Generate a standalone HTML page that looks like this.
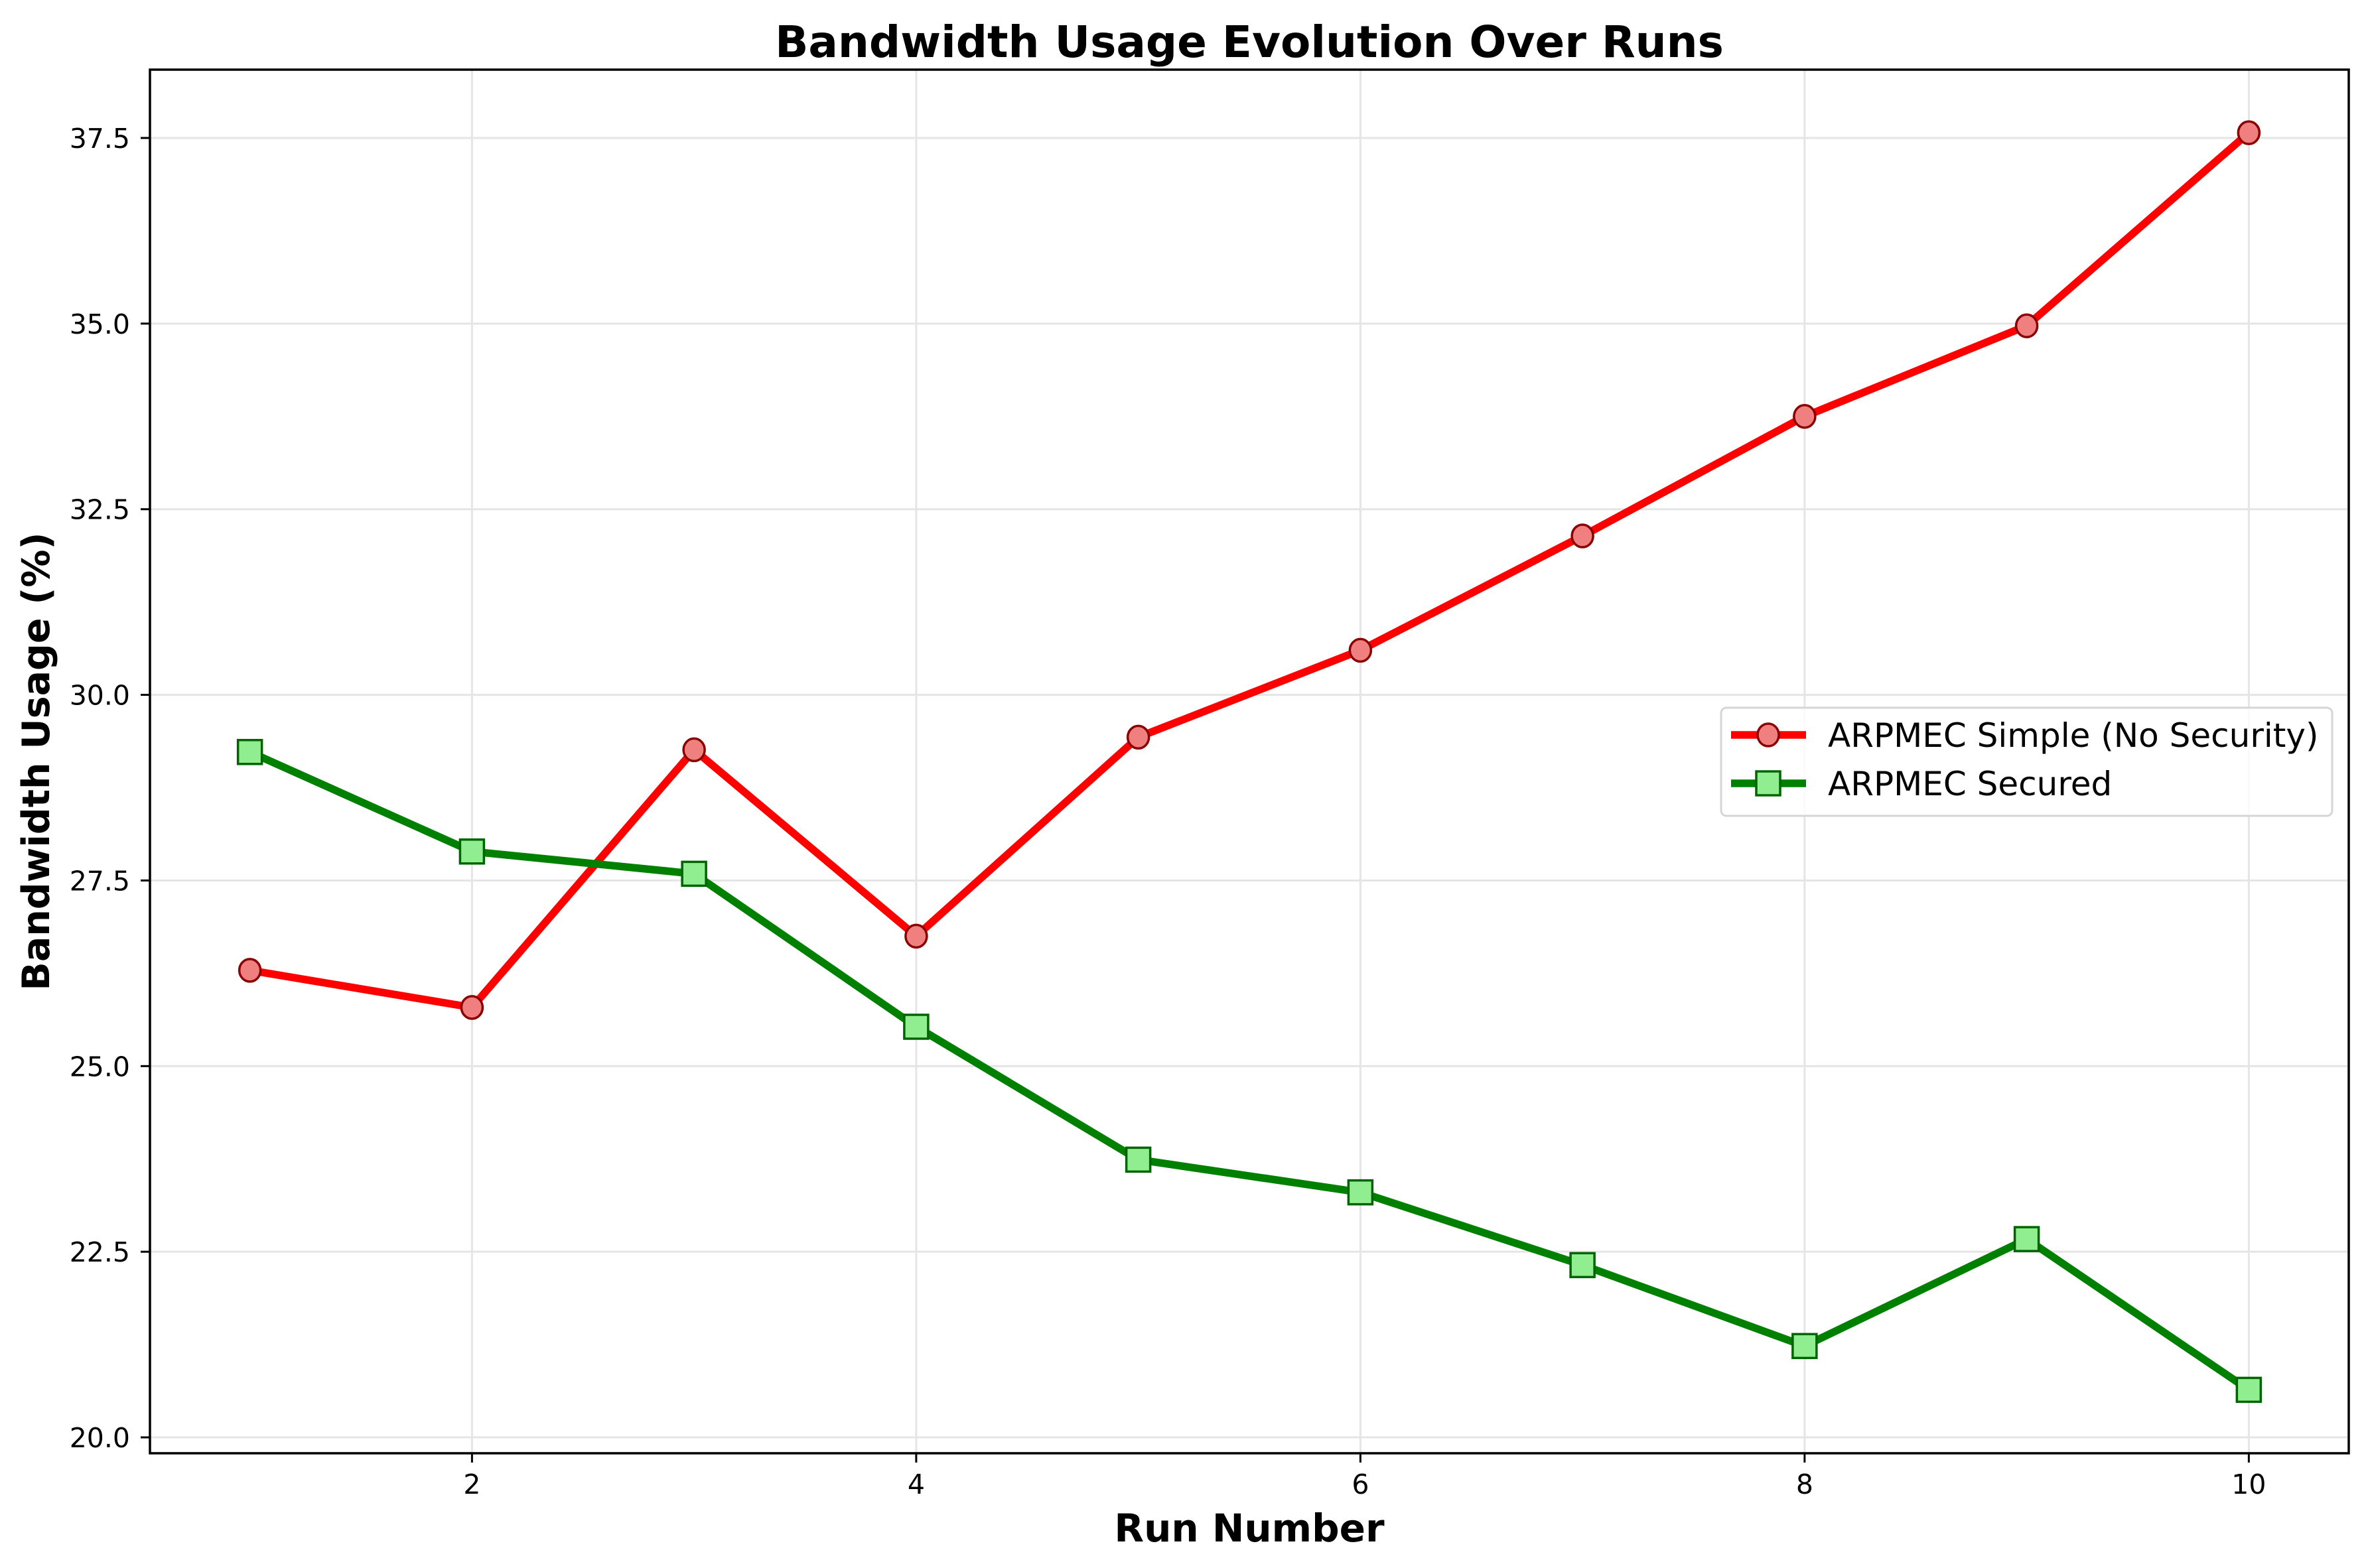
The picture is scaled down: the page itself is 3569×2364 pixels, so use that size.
<!DOCTYPE html>
<html><head><meta charset="utf-8"><style>
body{margin:0;background:#fff}
svg{display:block;font-family:"DejaVu Sans","Liberation Sans",sans-serif}
</style></head><body>
<svg id="chart" width="3569" height="2364" viewBox="0 0 3569 2364" xmlns="http://www.w3.org/2000/svg">
<rect width="3569" height="2364" fill="#fff"/>
<g id="grid"></g>
<g id="axes"></g>
<g id="series"></g>
<text x="1883" y="86" text-anchor="middle" font-size="66" font-weight="bold">Bandwidth Usage Evolution Over Runs</text>
<text x="1883" y="2324" text-anchor="middle" font-size="58" font-weight="bold">Run Number</text>
<text transform="translate(74,1148) rotate(-90)" text-anchor="middle" font-size="57" font-weight="bold">Bandwidth Usage (%)</text>
<g>
<rect x="2594" y="1067" width="921" height="163" rx="8" fill="#fff" fill-opacity="0.8" stroke="#d6d6d6" stroke-width="3"/>
<g>
<line x1="2609" y1="1108" x2="2722" y2="1108" stroke="#ff0000" stroke-width="11.5"/>
<ellipse cx="2665" cy="1108" rx="16" ry="17" fill="#f08080" stroke="#8b0000" stroke-width="3.5"/>
<text x="2755" y="1126" font-size="50">ARPMEC Simple (No Security)</text>
</g>
<g>
<line x1="2609" y1="1181" x2="2722" y2="1181" stroke="#008000" stroke-width="11.5"/>
<rect x="2647" y="1163" width="36" height="36" fill="#90ee90" stroke="#006400" stroke-width="3.5"/>
<text x="2755" y="1199" font-size="50">ARPMEC Secured</text>
</g>
</g>
</svg>
<script>
const runs=[1,2,3,4,5,6,7,8,9,10];
const simpleValues=[26.29,25.79,29.26,26.75,29.43,30.6,32.14,33.75,34.97,37.57];
const securedValues=[29.23,27.89,27.59,25.53,23.74,23.3,22.32,21.23,22.67,20.64];
const xTicks=[2,4,6,8,10];
const yTicks=[20.0,22.5,25.0,27.5,30.0,32.5,35.0,37.5];
const yTickLabels=["20.0","22.5","25.0","27.5","30.0","32.5","35.0","37.5"];

const L=226,R=3540,T=105,B=2191;
const xmin=0.55,xmax=10.45,ymin=19.786,ymax=38.42;
const X=v=>L+(v-xmin)/(xmax-xmin)*(R-L);
const Y=v=>B-(v-ymin)/(ymax-ymin)*(B-T);
const NS="http://www.w3.org/2000/svg";
function mk(tag,attrs,parent){const e=document.createElementNS(NS,tag);for(const k in attrs)e.setAttribute(k,attrs[k]);parent.appendChild(e);return e;}
const grid=document.getElementById('grid'),axes=document.getElementById('axes'),series=document.getElementById('series');
xTicks.forEach(t=>{
  const g=mk('line',{x1:X(t),x2:X(t),y1:T,y2:B,stroke:'#e5e5e5','stroke-width':3},grid);
  
  
  const tk=mk('line',{x1:X(t),x2:X(t),y1:B,y2:B+14,stroke:'#000','stroke-width':3},axes);
  
  
  const lb=mk('text',{x:X(t),y:2252,'text-anchor':'middle','font-size':41},axes);
  lb.textContent=String(t);
  
  
});
yTicks.forEach((t,i)=>{
  const g=mk('line',{x1:L,x2:R,y1:Y(t),y2:Y(t),stroke:'#e5e5e5','stroke-width':3},grid);
  
  
  const tk=mk('line',{x1:L-14,x2:L,y1:Y(t),y2:Y(t),stroke:'#000','stroke-width':3},axes);
  
  
  const lb=mk('text',{x:L-30,y:Y(t)+15,'text-anchor':'end','font-size':41},axes);
  lb.textContent=yTickLabels[i];
  
  
});
const fr=mk('rect',{x:L,y:T,width:R-L,height:B-T,fill:'none',stroke:'#000','stroke-width':3.5},axes);



const pl1=mk('polyline',{points:runs.map((r,i)=>X(r)+','+Y(simpleValues[i])).join(' '),fill:'none',stroke:'#ff0000','stroke-width':11.5,'stroke-linejoin':'round'},series);


const pl2=mk('polyline',{points:runs.map((r,i)=>X(r)+','+Y(securedValues[i])).join(' '),fill:'none',stroke:'#008000','stroke-width':11.5,'stroke-linejoin':'round'},series);


runs.forEach((r,i)=>{
  const c=mk('ellipse',{cx:X(r),cy:Y(simpleValues[i]),rx:16,ry:17,fill:'#f08080',stroke:'#8b0000','stroke-width':3.5},series);
  
  
});
runs.forEach((r,i)=>{
  const s=mk('rect',{x:X(r)-18,y:Y(securedValues[i])-18,width:36,height:36,fill:'#90ee90',stroke:'#006400','stroke-width':3.5},series);
  
  
});
</script>
</body></html>
